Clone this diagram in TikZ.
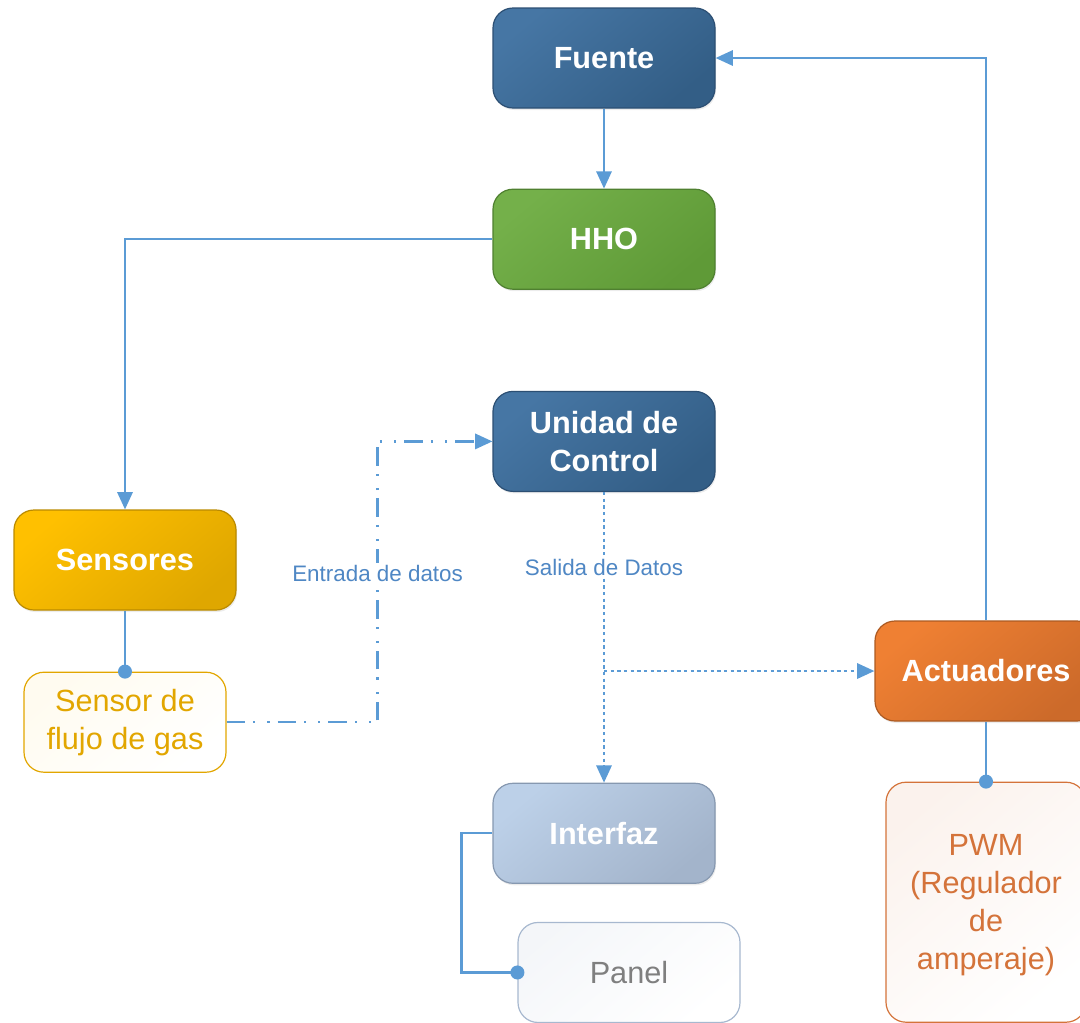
\documentclass[tikz,border=0pt]{standalone}
\usepackage{fontspec}
\setmainfont{Liberation Sans}
\usetikzlibrary{positioning, arrows.meta, shadows}

\definecolor{linkblue}{HTML}{5B9BD5}
\definecolor{labelblue}{HTML}{4F87C4}
\definecolor{navyA}{HTML}{4676A4}
\definecolor{navyB}{HTML}{335E86}
\definecolor{navyline}{HTML}{2C4F73}
\definecolor{greenA}{HTML}{74B04A}
\definecolor{greenB}{HTML}{5F9A37}
\definecolor{greenline}{HTML}{4F8030}
\definecolor{goldA}{HTML}{FFC000}
\definecolor{goldB}{HTML}{DFA700}
\definecolor{goldline}{HTML}{BA8A00}
\definecolor{goldtext}{HTML}{E2A600}
\definecolor{orangeA}{HTML}{EF8033}
\definecolor{orangeB}{HTML}{CC6A2A}
\definecolor{orangeline}{HTML}{AC5A22}
\definecolor{rusttext}{HTML}{D4733A}
\definecolor{greyA}{HTML}{BCD0E8}
\definecolor{greyB}{HTML}{A3B4CB}
\definecolor{greyline}{HTML}{8698B0}
\definecolor{paleline}{HTML}{A7B8CF}
\definecolor{paletext}{HTML}{7F7F7F}

\tikzset{
	box/.style={
			rounded corners=15pt,
			minimum width=166.5pt,
			minimum height=75pt,
			align=center,
			line width=0.9pt,
			inner sep=2pt,
			font=\fontsize{23}{28.5}\selectfont,
		},
	block/.style={
			box,
			text=white,
			font=\fontsize{23}{28.5}\selectfont\bfseries,
			drop shadow={opacity=0.15, shadow xshift=0.8pt, shadow yshift=-1.5pt},
		},
	navyblock/.style={block, draw=navyline, top color=navyA, bottom color=navyB, shading angle=40},
	greenblock/.style={block, draw=greenline, top color=greenA, bottom color=greenB, shading angle=40},
	goldblock/.style={block, draw=goldline, top color=goldA, bottom color=goldB, shading angle=40},
	orangeblock/.style={block, draw=orangeline, top color=orangeA, bottom color=orangeB, shading angle=40},
	greyblock/.style={block, draw=greyline, top color=greyA, bottom color=greyB, shading angle=40},
	goldbox/.style={box, draw=goldtext, text=goldtext, top color=goldA!6, bottom color=white, shading angle=40},
	rustbox/.style={box, draw=rusttext, text=rusttext, top color=rusttext!9, bottom color=white, shading angle=40},
	palebox/.style={box, draw=paleline, text=paletext, top color=paleline!12, bottom color=white, shading angle=40},
	link/.style={draw=linkblue, line width=1.7pt},
	tip/.style={-{Triangle[length=13pt, width=11.5pt]}},
	dotend/.style={-{Circle[length=10.5pt]}, shorten >=-5.25pt},
	entrada/.style={dash pattern=on 14pt off 6pt on 1.6pt off 9pt on 1.6pt off 6pt},
	salida/.style={dash pattern=on 2.6pt off 2.4pt},
	tag/.style={fill=white, text=labelblue, inner sep=1.5pt, font=\fontsize{16.8}{20}\selectfont},
}

\begin{document}
\begin{tikzpicture}[x=0.75pt, y=-0.75pt]
	\useasboundingbox (0,0) rectangle (1080,1022);
	\clip (0,0) rectangle (1080,1022);

	% central column
	\node[navyblock] (fuente) at (604,58) {Fuente};
	\node[greenblock, below=60pt of fuente] (hho) {HHO};
	\node[navyblock, below=75.75pt of hho] (unidad) {Unidad de\\Control};
	\node[greyblock, below=218pt of unidad] (interfaz) {Interfaz};
	\node[palebox, below=28.5pt of interfaz, xshift=18.75pt] (panel) {Panel};

	% sensors
	\node[goldblock] (sensores) at (125,560) {Sensores};
	\node[goldbox, below=45.75pt of sensores, minimum width=151.5pt] (flujo) {Sensor de\\flujo de gas};

	% actuators
	\node[orangeblock] (actuadores) at (986,671) {Actuadores};
	\node[rustbox, below=45pt of actuadores, minimum width=150pt, minimum height=180pt, text depth=-9pt] (pwm) {PWM\\(Regulador\\de\\amperaje)};

	% connectors
	\draw[link, tip] (fuente) -- (hho);
	\draw[link, tip] (hho.west) -| (sensores.north);
	\draw[link, dotend] (sensores) -- (flujo);
	\draw[link, entrada, tip] (flujo.east) -- ++(151,0) |- node[tag, pos=0.265] (entradatag) {Entrada de datos} (unidad.west);
	\draw[link, salida, tip] (unidad) -- node[tag, pos=0.26] (salidatag) {Salida de Datos} (interfaz);
	\draw[link, salida, tip] (unidad.south |- actuadores.west) -- (actuadores.west);
	\draw[link, tip] (actuadores.north) |- (fuente.east);
	\draw[link, dotend] (actuadores) -- (pwm);
	\draw[link, dotend] (interfaz.west) -- ++(-31,0) |- (panel.west);
\end{tikzpicture}
\end{document}
